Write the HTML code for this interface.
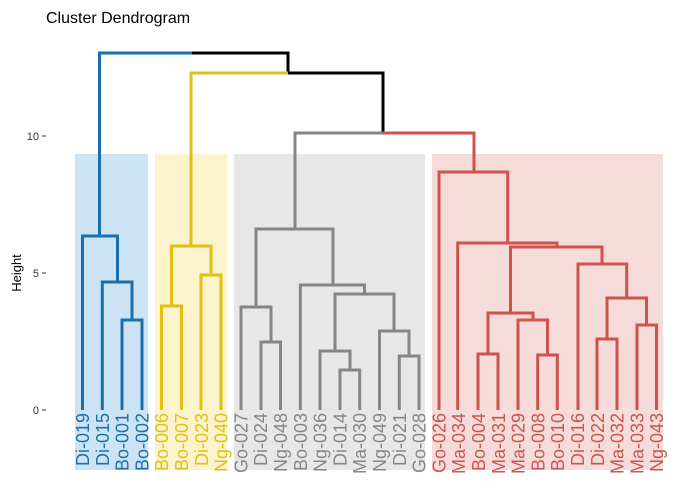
<!DOCTYPE html>
<html><head><meta charset="utf-8"><style>
html,body{margin:0;padding:0;background:#fff;}
svg{display:block;font-family:"Liberation Sans",sans-serif;}
</style></head><body>
<svg width="700" height="500" viewBox="0 0 700 500">
<rect width="700" height="500" fill="#fff"/>
<text x="46" y="23" font-size="16" fill="#000">Cluster Dendrogram</text>
<rect x="75" y="154" width="73" height="316" fill="#cce3f3"/>
<rect x="155" y="154" width="72" height="316" fill="#fcf2cc"/>
<rect x="234" y="154" width="191" height="316" fill="#e7e7e7"/>
<rect x="432" y="154" width="231" height="316" fill="#f5dcdb"/>
<g font-size="11" fill="#333" text-anchor="end">
<text x="39" y="140">10</text><text x="39" y="277">5</text><text x="39" y="414">0</text>
</g>
<g stroke="#333" stroke-width="1"><line x1="42" y1="136" x2="46" y2="136"/><line x1="42" y1="273" x2="46" y2="273"/><line x1="42" y1="410" x2="46" y2="410"/></g>
<text transform="translate(21,273) rotate(-90)" font-size="13" text-anchor="middle" fill="#000">Height</text>
<g fill="none" stroke-width="3" stroke-linejoin="miter" stroke-linecap="butt">
<path d="M99.5 236 V53 H192" stroke="#1A70AC"/>
<path d="M192 53 H288 V73 H383 V133" stroke="#000"/>
<path d="M191 246 V73 H288" stroke="#E0C010"/>
<path d="M383 133 H295 V229" stroke="#868686"/>
<path d="M383 133 H474 V172" stroke="#CD534C"/>
<g stroke="#1A70AC">
<path d="M82.5 410 V236 H117.5 V282"/>
<path d="M102.3 410 V282 H132 V320"/>
<path d="M122 410 V320 H142 V410"/>
</g>
<g stroke="#E0C010">
<path d="M171.5 306 V246 H211 V275"/>
<path d="M161.5 410 V306 H181.5 V410"/>
<path d="M201 410 V275 H221 V410"/>
</g>
<g stroke="#868686">
<path d="M256 307 V229 H333 V285"/>
<path d="M241 410 V307 H271 V342"/>
<path d="M261 410 V342 H280.5 V410"/>
<path d="M300.3 410 V285 H364.5 V294"/>
<path d="M335 351 V294 H394 V331"/>
<path d="M320 410 V351 H350 V370"/>
<path d="M340 410 V370 H359.7 V410"/>
<path d="M379.5 410 V331 H409 V356"/>
<path d="M399.3 410 V356 H419 V410"/>
</g>
<g stroke="#CD534C">
<path d="M439 410 V172 H507.7 V243"/>
<path d="M457.7 410 V243 H557 V247"/>
<path d="M510.5 313 V247 H602 V264"/>
<path d="M488 354 V313 H533 V320"/>
<path d="M478 410 V354 H498 V410"/>
<path d="M518 410 V320 H547.5 V355"/>
<path d="M537.7 410 V355 H557.3 V410"/>
<path d="M578 410 V264 H626.7 V298"/>
<path d="M607 339 V298 H646.5 V325"/>
<path d="M597 410 V339 H617 V410"/>
<path d="M637 410 V325 H656.5 V410"/>
</g>
</g>
<g font-size="18" text-anchor="end">
<g fill="#1A70AC">
<text transform="translate(89,413) rotate(-90)">Di-019</text>
<text transform="translate(108.8,413) rotate(-90)">Di-015</text>
<text transform="translate(128.6,413) rotate(-90)">Bo-001</text>
<text transform="translate(148.4,413) rotate(-90)">Bo-002</text>
</g>
<g fill="#E0C010">
<text transform="translate(168.2,413) rotate(-90)">Bo-006</text>
<text transform="translate(188,413) rotate(-90)">Bo-007</text>
<text transform="translate(207.8,413) rotate(-90)">Di-023</text>
<text transform="translate(227.6,413) rotate(-90)">Ng-040</text>
</g>
<g fill="#868686">
<text transform="translate(247.4,413) rotate(-90)">Go-027</text>
<text transform="translate(267.2,413) rotate(-90)">Di-024</text>
<text transform="translate(287,413) rotate(-90)">Ng-048</text>
<text transform="translate(306.8,413) rotate(-90)">Bo-003</text>
<text transform="translate(326.6,413) rotate(-90)">Ng-036</text>
<text transform="translate(346.4,413) rotate(-90)">Di-014</text>
<text transform="translate(366.2,413) rotate(-90)">Ma-030</text>
<text transform="translate(386,413) rotate(-90)">Ng-049</text>
<text transform="translate(405.8,413) rotate(-90)">Di-021</text>
<text transform="translate(425.6,413) rotate(-90)">Go-028</text>
</g>
<g fill="#CD534C">
<text transform="translate(445.4,413) rotate(-90)">Go-026</text>
<text transform="translate(465.2,413) rotate(-90)">Ma-034</text>
<text transform="translate(485,413) rotate(-90)">Bo-004</text>
<text transform="translate(504.8,413) rotate(-90)">Ma-031</text>
<text transform="translate(524.6,413) rotate(-90)">Ma-029</text>
<text transform="translate(544.4,413) rotate(-90)">Bo-008</text>
<text transform="translate(564.2,413) rotate(-90)">Bo-010</text>
<text transform="translate(584,413) rotate(-90)">Di-016</text>
<text transform="translate(603.8,413) rotate(-90)">Di-022</text>
<text transform="translate(623.6,413) rotate(-90)">Ma-032</text>
<text transform="translate(643.4,413) rotate(-90)">Ma-033</text>
<text transform="translate(663.2,413) rotate(-90)">Ng-043</text>
</g>
</g>
</svg>
</body></html>
